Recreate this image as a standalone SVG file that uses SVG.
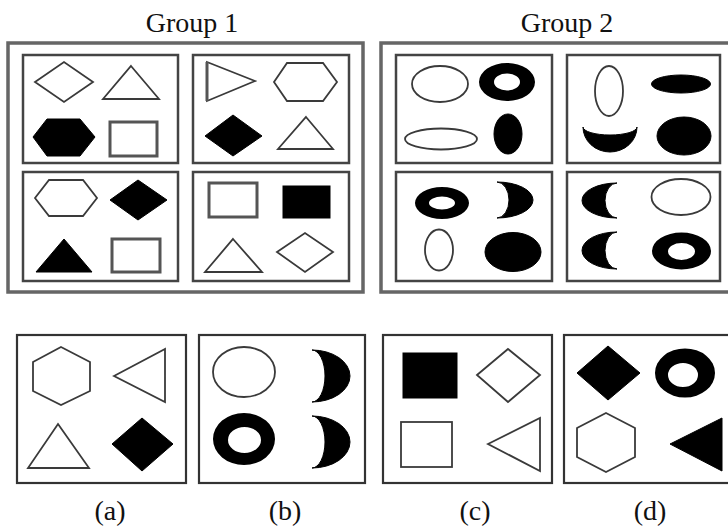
<svg xmlns="http://www.w3.org/2000/svg" width="728" height="528" viewBox="0 0 728 528">
<style>
.t{font-family:"Liberation Serif","Times New Roman",serif;font-size:28px;fill:#111;text-anchor:middle}
.outer{fill:none;stroke:#666;stroke-width:3.5}
.pan{fill:#fff;stroke:#444;stroke-width:2.5}
.bp{fill:#fff;stroke:#333;stroke-width:2.2}
.o{fill:#fff;stroke:#3a3a3a;stroke-width:1.8;stroke-linejoin:miter}
.og{fill:#fff;stroke:#555;stroke-width:3}
.f{fill:#000;stroke:#000;stroke-width:1}
.ring{fill:#000;fill-rule:evenodd}
</style>
<rect width="728" height="528" fill="#fff"/>
<text class="t" x="192" y="32">Group 1</text>
<text class="t" x="567" y="32">Group 2</text>

<g id="group1">
<rect class="outer" x="8" y="43" width="355" height="249"/>
<g id="g1p1">
<rect class="pan" x="23" y="55" width="155" height="108"/>
<polygon class="o" points="35,82 64,62 93,82 64,102"/>
<polygon class="o" points="131,66 159,99 103,99"/>
<polygon class="f" points="33,137 47,119 80,119 95,137 80,156 47,156"/>
<rect class="og" x="110" y="122" width="47" height="34"/>
</g>
<g id="g1p2">
<rect class="pan" x="193" y="55" width="156" height="108"/>
<polygon class="o" points="207,62 255,81 207,101"/>
<line x1="207" y1="62" x2="207" y2="101" stroke="#555" stroke-width="3"/>
<polygon class="o" points="274,82 287,63 323,63 337,82 323,101 287,101"/>
<polygon class="f" points="205,136 233,115 262,136 233,156"/>
<polygon class="o" points="306,117 333,149 278,149"/>
</g>
<g id="g1p3">
<rect class="pan" x="23" y="172" width="155" height="109"/>
<polygon class="o" points="35,198 49,180 83,180 97,198 83,216 49,216"/>
<polygon class="f" points="110,200 138,180 167,200 138,220"/>
<polygon class="f" points="64,239 92,272 36,272"/>
<rect class="og" x="112" y="239" width="48" height="33"/>
</g>
<g id="g1p4">
<rect class="pan" x="193" y="172" width="156" height="109"/>
<rect class="og" x="209" y="183" width="48" height="34"/>
<rect class="f" x="283" y="186" width="47" height="32"/>
<polygon class="o" points="233,239 262,272 205,272"/>
<polygon class="o" points="277,252 305,233 333,252 305,272"/>
</g>
</g>

<g id="group2">
<rect class="outer" x="381" y="43" width="360" height="249"/>
<g id="g2p1">
<rect class="pan" x="396" y="55" width="156" height="108"/>
<ellipse class="o" cx="440" cy="84" rx="28" ry="18"/>
<path class="ring" d="M479,82a28,19 0 1,0 56,0a28,19 0 1,0 -56,0ZM494,82a13,8.5 0 1,0 26,0a13,8.5 0 1,0 -26,0Z"/>
<ellipse class="o" cx="441" cy="139" rx="36" ry="10.5"/>
<ellipse class="f" cx="508" cy="134" rx="14" ry="20"/>
</g>
<g id="g2p2">
<rect class="pan" x="567" y="55" width="153" height="108"/>
<ellipse class="o" cx="609" cy="91" rx="14" ry="25"/>
<ellipse class="f" cx="681" cy="84" rx="29.5" ry="9"/>
<path class="f" d="M583,127A27,25 0 0,0 637,127A27,8 0 0,1 583,127Z"/>
<ellipse class="f" cx="684" cy="136" rx="27" ry="19"/>
</g>
<g id="g2p3">
<rect class="pan" x="396" y="172" width="156" height="109"/>
<path class="ring" d="M415,203a27,16 0 1,0 54,0a27,16 0 1,0 -54,0ZM429,203a13,6.5 0 1,0 26,0a13,6.5 0 1,0 -26,0Z"/>
<path class="f" d="M497,182A36,18 0 0,1 497,218A12,18 0 0,0 497,182Z"/>
<ellipse class="o" cx="439" cy="250" rx="14" ry="20.5"/>
<ellipse class="f" cx="513" cy="252" rx="28" ry="19.5"/>
</g>
<g id="g2p4">
<rect class="pan" x="567" y="172" width="153" height="109"/>
<path class="f" d="M617,183A35,17.5 0 0,0 617,218A12,17.5 0 0,1 617,183Z"/>
<ellipse class="o" cx="681" cy="197" rx="29.5" ry="18"/>
<path class="f" d="M617,232A35,18.5 0 0,0 617,269A12,18.5 0 0,1 617,232Z"/>
<path class="ring" d="M652,251a29.5,18.5 0 1,0 59,0a29.5,18.5 0 1,0 -59,0ZM668,251.5a13.5,8.5 0 1,0 27,0a13.5,8.5 0 1,0 -27,0Z"/>
</g>
</g>

<g id="optA">
<rect class="bp" x="17" y="335" width="169" height="148"/>
<polygon class="o" points="61,347 90,362 90,391 61,405 33,391 33,362"/>
<polygon class="o" points="114,376 165,349 165,402"/>
<polygon class="o" points="58,424 89,468 28,468"/>
<polygon class="f" points="112,444 142,418 173,444 142,471"/>
<text class="t" x="110" y="520">(a)</text>
</g>
<g id="optB">
<rect class="bp" x="199" y="335" width="166" height="148"/>
<ellipse class="o" cx="244" cy="372" rx="31" ry="25"/>
<path class="f" d="M312,350A38,26 0 0,1 312,402A13,26 0 0,0 312,350Z"/>
<path class="ring" d="M213,439a31,26 0 1,0 62,0a31,26 0 1,0 -62,0ZM228,440a16.5,13 0 1,0 33,0a16.5,13 0 1,0 -33,0Z"/>
<path class="f" d="M312,416A38,26 0 0,1 312,468A13,26 0 0,0 312,416Z"/>
<text class="t" x="285" y="520">(b)</text>
</g>
<g id="optC">
<rect class="bp" x="383" y="335" width="169" height="148"/>
<rect class="f" x="403" y="353" width="54" height="45"/>
<polygon class="o" points="477,375 508,349 540,375 508,402"/>
<rect class="o" x="401" y="422" width="51" height="45" stroke="#222" stroke-width="2.5"/>
<polygon class="o" points="488,444 540,418 540,471"/>
<text class="t" x="475" y="520">(c)</text>
</g>
<g id="optD">
<rect class="bp" x="564" y="335" width="170" height="148"/>
<polygon class="f" points="577,373 608,346 640,373 608,400"/>
<path class="ring" d="M655,373a30,24.5 0 1,0 60,0a30,24.5 0 1,0 -60,0ZM668,375a15,12 0 1,0 30,0a15,12 0 1,0 -30,0Z"/>
<polygon class="o" points="606,413 635,428 635,457 606,472 577,457 577,428"/>
<polygon class="f" points="670,444 722,418 722,471"/>
<text class="t" x="650" y="520">(d)</text>
</g>
</svg>
